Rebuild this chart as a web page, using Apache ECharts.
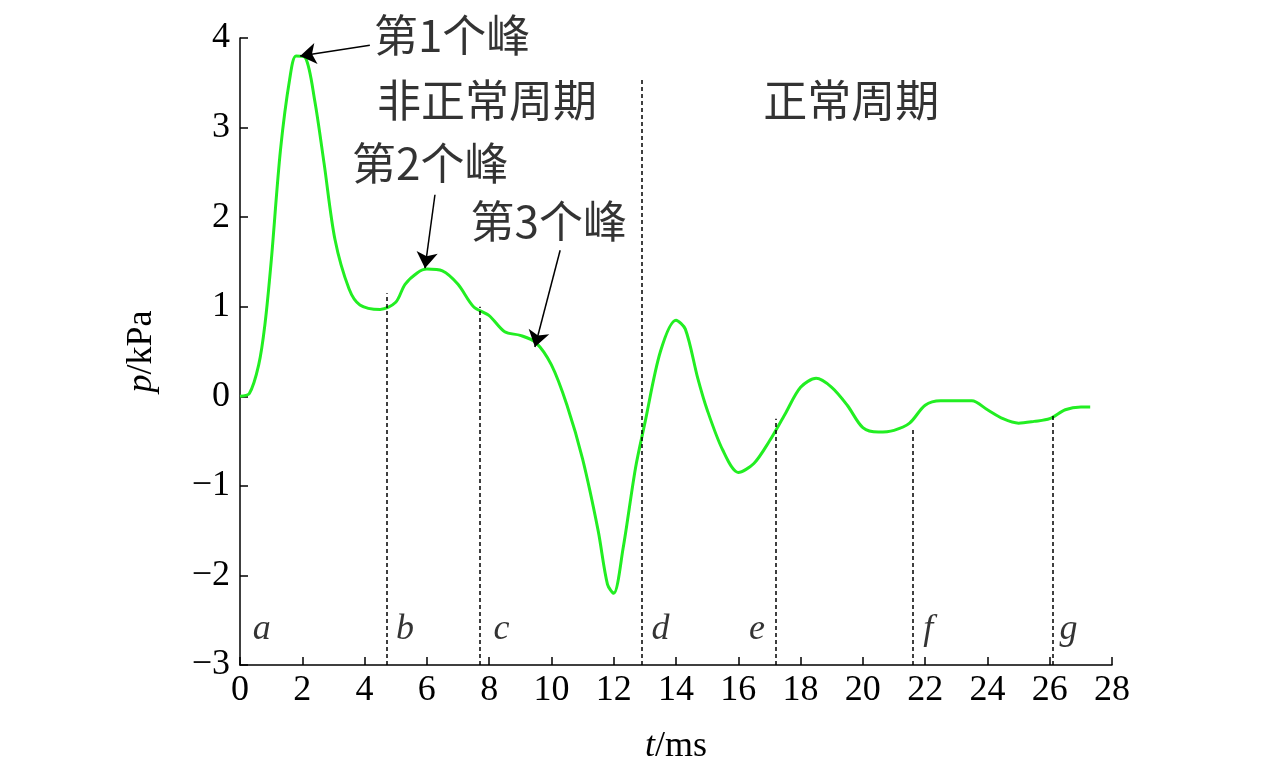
<!DOCTYPE html><html><head><meta charset="utf-8">
<script src="https://cdn.jsdelivr.net/npm/echarts@6/dist/echarts.min.js"></script>
<style>body{margin:0;background:#fff}#c{width:1276px;height:770px}</style></head><body><div id="c"></div>
<script>
const times=[0,0.3,0.6,0.8,1.0,1.3,1.6,1.8,2.1,2.4,2.7,3.05,3.5,3.85,4.5,5.0,5.3,5.7,6.0,6.5,7.0,7.5,8.0,8.5,9.0,9.5,10.0,10.5,11.0,11.5,11.8,12.0,12.3,12.7,13.0,13.5,14.0,14.3,14.7,15.0,15.5,16.0,16.5,17.0,17.5,18.0,18.5,19.0,19.5,20.0,20.5,21.0,21.5,22.0,22.5,23.0,23.5,24.0,24.5,25.0,25.5,26.0,26.5,27.0,27.3];
const pressure=[0,0.03,0.35,0.8,1.5,2.75,3.55,3.8,3.78,3.3,2.6,1.75,1.2,1.02,0.97,1.05,1.25,1.38,1.42,1.4,1.25,1.0,0.9,0.72,0.68,0.6,0.35,-0.1,-0.7,-1.5,-2.1,-2.2,-1.7,-0.8,-0.3,0.5,0.85,0.75,0.2,-0.15,-0.6,-0.85,-0.75,-0.5,-0.2,0.1,0.2,0.1,-0.1,-0.35,-0.4,-0.38,-0.3,-0.1,-0.05,-0.05,-0.05,-0.15,-0.25,-0.3,-0.28,-0.25,-0.15,-0.12,-0.12];
const dividerT=[4.7,7.7,12.9,17.2,21.6,26.1];
const dividerTop=[1.15,1.0,3.55,-0.25,-0.35,-0.2];
const segLetters=['a','b','c','d','e','f','g'];
const segLetterT=[0.7,5.3,8.4,13.5,16.6,22.1,26.6];
const arrows=[[[4.17,3.92],[1.93,3.8]],[[6.26,2.25],[5.94,1.43]],[[10.28,1.63],[9.47,0.55]]];
const notes=[{t:'第1个峰',x:4.3,y:4.03},{t:'第2个峰',x:3.6,y:2.6},{t:'第3个峰',x:7.4,y:1.95},{t:'非正常周期',x:4.4,y:3.3},{t:'正常周期',x:16.8,y:3.3}];
const serif='"Liberation Serif","DejaVu Serif",serif';
const cjk='"Noto Sans CJK SC",sans-serif';
const ch=echarts.init(document.getElementById('c'));
const ml=[];
dividerT.forEach((t,i)=>ml.push([{coord:[t,-3],symbol:'none'},{coord:[t,dividerTop[i]],symbol:'none'}]));
const arrowML=arrows.map(a=>[{coord:a[0]},{coord:a[1]}]);
ch.setOption({
 animation:false,
 grid:{left:240,right:164,top:38,bottom:103},
 xAxis:{type:'value',min:0,max:28,interval:2,name:'{i|t}/ms',nameLocation:'middle',nameGap:64,
  nameTextStyle:{fontFamily:serif,fontSize:36,color:'#000',rich:{i:{fontFamily:serif,fontSize:36,fontStyle:'italic',color:'#000'}}},
  axisLine:{onZero:false,lineStyle:{color:'#000',width:1.5}},axisTick:{inside:true,length:8,lineStyle:{color:'#000',width:1.5}},
  axisLabel:{fontFamily:serif,fontSize:36,color:'#000',margin:8},splitLine:{show:false}},
 yAxis:{type:'value',min:-3,max:4,interval:1,name:'{i|p}/kPa',nameLocation:'middle',nameGap:80,nameRotate:90,
  nameTextStyle:{fontFamily:serif,fontSize:36,color:'#000',rich:{i:{fontFamily:serif,fontSize:36,fontStyle:'italic',color:'#000'}}},
  axisLine:{onZero:false,lineStyle:{color:'#000',width:1.5}},axisTick:{inside:true,length:8,lineStyle:{color:'#000',width:1.5}},
  axisLabel:{fontFamily:serif,fontSize:36,color:'#000',margin:10,formatter:v=>v<0?'−'+(-v):v},splitLine:{show:false}},
 series:[
  {type:'line',data:times.map((t,i)=>[t,pressure[i]]),smooth:0.3,showSymbol:false,lineStyle:{color:'#22ee22',width:3},
   markLine:{silent:true,symbol:'none',label:{show:false},lineStyle:{color:'#000',type:[4,3],width:1.5},data:ml}},
  {type:'line',data:[],markLine:{silent:true,symbol:['none','arrow'],symbolSize:16,label:{show:false},lineStyle:{color:'#000',type:'solid',width:1.5},data:arrowML}},
  {type:'scatter',clip:false,data:segLetters.map((s,i)=>[segLetterT[i],-2.6,s]),symbolSize:0,
   label:{show:true,formatter:p=>p.data[2],position:'inside',fontFamily:serif,fontSize:36,fontStyle:'italic',color:'#000'}},
  {type:'scatter',clip:false,data:notes.map(n=>[n.x,n.y,n.t]),symbolSize:0,
   label:{show:true,formatter:p=>p.data[2],position:'right',distance:0,fontFamily:cjk,fontSize:44,color:'#000'}}
 ]
});
</script></body></html>
